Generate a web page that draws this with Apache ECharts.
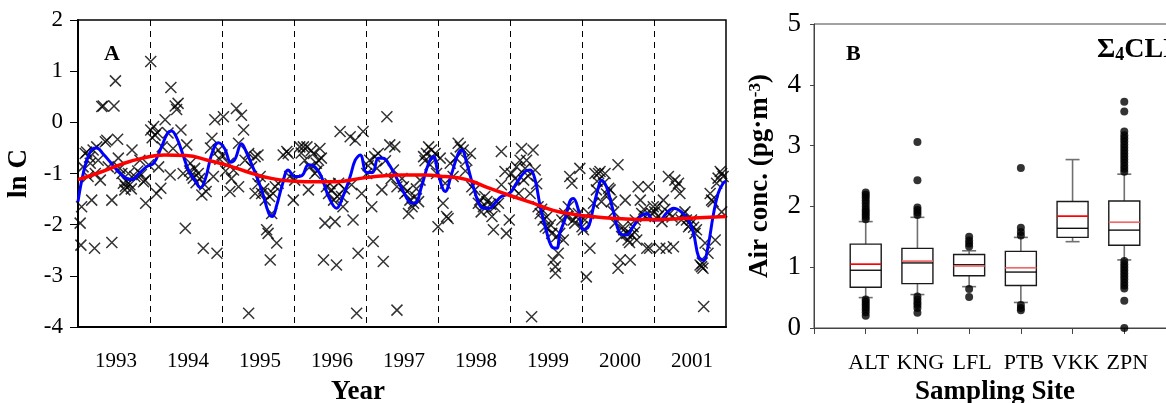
<!DOCTYPE html>
<html><head><meta charset="utf-8">
<script src="https://cdn.jsdelivr.net/npm/echarts@6/dist/echarts.min.js"></script>
<style>html,body{margin:0;padding:0;background:#fff}#c{width:1166px;height:403px}</style>
</head><body><div id="c"></div>
<script>
// ---------- Panel A data ----------
const yearLabels = ['1993','1994','1995','1996','1997','1998','1999','2000','2001'];
const lnCTicks = [-4,-3,-2,-1,0,1,2];
// individual samples [year, ln C]
const lnCSamples = [
[1993.03,-1.97],[1993.04,-2.40],[1993.05,-1.65],[1993.07,-0.87],[1993.10,-0.61],[1993.12,-0.58],[1993.14,-1.06],[1993.16,-0.68],[1993.17,-0.80],[1993.19,-1.52],[1993.21,-0.54],[1993.23,-2.46],[1993.24,-1.00],[1993.26,-0.48],[1993.28,-0.74],[1993.31,-1.13],[1993.33,0.31],[1993.35,0.32],[1993.38,-0.38],[1993.40,-0.35],[1993.42,-0.87],[1993.47,-1.52],[1993.47,-2.35],[1993.50,0.32],[1993.52,0.81],[1993.55,-0.33],[1993.56,-0.70],[1993.58,-0.90],[1993.61,-1.00],[1993.63,-1.19],[1993.65,-1.32],[1993.66,-1.25],[1993.68,-1.16],[1993.70,-1.00],[1993.72,-1.22],[1993.74,-1.30],[1993.75,-0.54],[1993.79,-1.06],[1993.83,-0.95],[1993.86,-0.74],[1993.88,-1.02],[1993.91,-1.16],[1993.93,-1.13],[1993.94,-1.58],[1993.98,-0.83],
[1994.01,1.19],[1994.01,-0.15],[1994.03,-0.30],[1994.05,-0.08],[1994.07,-0.25],[1994.09,-1.39],[1994.10,-0.20],[1994.12,-0.87],[1994.15,-1.29],[1994.17,-0.48],[1994.21,0.05],[1994.25,-0.21],[1994.28,-1.03],[1994.29,0.68],[1994.32,-0.51],[1994.35,0.32],[1994.37,0.25],[1994.39,0.37],[1994.43,-0.15],[1994.46,-1.00],[1994.49,-2.07],[1994.51,-0.44],[1994.55,-0.95],[1994.56,-0.80],[1994.58,-1.03],[1994.60,-1.09],[1994.62,-0.90],[1994.64,-1.18],[1994.67,-1.00],[1994.69,-1.10],[1994.72,-1.42],[1994.74,-2.46],[1994.76,-1.22],[1994.78,-1.35],[1994.84,-0.50],[1994.86,-0.31],[1994.88,-1.06],[1994.90,0.05],[1994.93,-2.56],[1994.95,-0.54],[1994.97,-0.72],
[1995.00,-0.64],[1995.02,0.11],[1995.05,-0.95],[1995.09,-0.80],[1995.11,-1.35],[1995.13,-1.10],[1995.16,-0.93],[1995.20,0.27],[1995.23,-0.41],[1995.23,-1.26],[1995.27,0.14],[1995.30,-0.15],[1995.32,-0.74],[1995.37,-0.61],[1995.37,-3.73],[1995.41,-0.87],[1995.46,-0.67],[1995.46,-1.39],[1995.50,-0.64],[1995.50,-1.20],[1995.53,-1.06],[1995.55,-1.39],[1995.58,-1.30],[1995.60,-1.52],[1995.62,-2.10],[1995.64,-2.17],[1995.66,-1.45],[1995.67,-2.69],[1995.69,-1.78],[1995.71,-1.39],[1995.74,-1.26],[1995.76,-2.36],[1995.78,-1.19],[1995.85,-0.64],[1995.90,-0.57],[1995.92,-0.61],[1995.94,-1.06],[1995.99,-1.52],
[1996.01,-1.13],[1996.08,-0.48],[1996.10,-0.60],[1996.13,-0.48],[1996.15,-0.74],[1996.18,-0.48],[1996.20,-1.32],[1996.22,-0.87],[1996.24,-0.55],[1996.27,-0.61],[1996.29,-1.00],[1996.31,-0.80],[1996.32,-0.95],[1996.34,-0.74],[1996.36,-0.51],[1996.38,-0.70],[1996.41,-2.69],[1996.43,-1.97],[1996.45,-1.26],[1996.48,-1.39],[1996.50,-1.20],[1996.52,-1.32],[1996.55,-1.52],[1996.57,-1.94],[1996.59,-2.79],[1996.60,-1.45],[1996.62,-1.19],[1996.64,-0.18],[1996.66,-1.45],[1996.68,-1.65],[1996.70,-1.30],[1996.78,-0.28],[1996.80,-1.22],[1996.82,-1.91],[1996.85,-0.35],[1996.87,-3.73],[1996.89,-2.56],[1996.94,-1.39],[1996.96,-0.18],
[1997.01,-1.00],[1997.03,-0.85],[1997.05,-0.74],[1997.08,-1.65],[1997.10,-2.33],[1997.12,-0.67],[1997.15,-0.90],[1997.17,-0.61],[1997.22,-1.32],[1997.24,-2.72],[1997.27,-0.75],[1997.29,0.11],[1997.33,-0.44],[1997.35,-1.10],[1997.38,-0.93],[1997.40,-0.48],[1997.43,-3.67],[1997.43,-1.26],[1997.50,-1.10],[1997.52,-1.26],[1997.54,-1.39],[1997.57,-1.35],[1997.59,-1.78],[1997.61,-1.52],[1997.64,-1.65],[1997.66,-1.58],[1997.68,-1.45],[1997.70,-1.30],[1997.73,-1.55],[1997.75,-1.13],[1997.80,-0.67],[1997.82,-0.75],[1997.84,-0.61],[1997.87,-0.48],[1997.89,-0.83],[1997.91,-0.54],[1997.93,-0.70],[1997.96,-0.61],[1997.98,-1.00],
[1998.00,-2.04],[1998.03,-0.70],[1998.07,-1.58],[1998.10,-1.19],[1998.12,-1.84],[1998.14,-1.88],[1998.17,-0.80],[1998.21,-1.06],[1998.25,-0.70],[1998.28,-0.41],[1998.31,-0.48],[1998.35,-0.54],[1998.38,-0.95],[1998.40,-0.74],[1998.45,-0.61],[1998.47,-1.26],[1998.51,-1.32],[1998.56,-1.58],[1998.58,-1.52],[1998.60,-1.75],[1998.63,-1.65],[1998.65,-1.45],[1998.68,-1.55],[1998.70,-1.71],[1998.73,-1.60],[1998.75,-1.84],[1998.77,-2.10],[1998.79,-1.65],[1998.84,-1.58],[1998.88,-0.57],[1998.88,-1.22],[1998.93,-0.96],[1998.95,-2.17],[1998.99,-1.91],
[1999.02,-1.00],[1999.05,-1.29],[1999.07,-1.10],[1999.09,-0.87],[1999.12,-1.39],[1999.14,-0.74],[1999.16,-0.51],[1999.19,-1.13],[1999.21,-0.90],[1999.23,-0.74],[1999.25,-1.05],[1999.28,-1.39],[1999.30,-3.80],[1999.32,-0.54],[1999.35,-0.93],[1999.37,-1.20],[1999.39,-1.65],[1999.42,-1.78],[1999.44,-1.70],[1999.46,-1.91],[1999.49,-2.04],[1999.51,-1.85],[1999.53,-2.07],[1999.56,-2.00],[1999.58,-2.17],[1999.60,-2.69],[1999.63,-2.82],[1999.63,-2.95],[1999.65,-2.23],[1999.67,-2.56],[1999.69,-2.17],[1999.72,-1.91],[1999.74,-2.30],[1999.76,-1.78],[1999.79,-1.85],[1999.81,-1.65],[1999.83,-1.06],[1999.86,-1.19],[1999.88,-1.91],[1999.90,-1.97],[1999.92,-1.85],[1999.95,-1.78],[1999.97,-0.90],
[2000.00,-2.04],[2000.02,-2.10],[2000.04,-1.91],[2000.06,-3.02],[2000.09,-1.78],[2000.11,-2.46],[2000.16,-1.58],[2000.18,-1.00],[2000.20,-1.32],[2000.21,-1.15],[2000.23,-1.00],[2000.25,-0.96],[2000.27,-1.55],[2000.30,-1.19],[2000.32,-1.00],[2000.34,-1.40],[2000.37,-1.29],[2000.39,-1.32],[2000.41,-1.55],[2000.44,-1.75],[2000.46,-1.97],[2000.50,-0.83],[2000.50,-2.85],[2000.53,-2.69],[2000.55,-2.23],[2000.57,-2.04],[2000.58,-2.10],[2000.60,-1.52],[2000.62,-2.17],[2000.64,-2.30],[2000.66,-2.35],[2000.67,-2.69],[2000.69,-2.20],[2000.71,-2.04],[2000.73,-2.15],[2000.74,-1.91],[2000.76,-2.30],[2000.78,-1.26],[2000.81,-1.52],[2000.83,-1.78],[2000.86,-1.70],[2000.88,-1.84],[2000.90,-2.46],[2000.92,-1.26],[2000.94,-2.46],[2000.97,-1.78],[2000.99,-1.65],
[2001.01,-1.75],[2001.04,-1.65],[2001.06,-1.84],[2001.08,-2.46],[2001.11,-1.94],[2001.13,-1.52],[2001.15,-1.70],[2001.17,-2.46],[2001.20,-1.06],[2001.22,-1.78],[2001.25,-1.85],[2001.27,-2.43],[2001.29,-1.13],[2001.31,-1.26],[2001.34,-1.19],[2001.36,-1.39],[2001.38,-1.91],[2001.40,-1.80],[2001.43,-1.75],[2001.45,-1.91],[2001.48,-2.04],[2001.50,-2.00],[2001.52,-1.91],[2001.55,-2.05],[2001.57,-2.17],[2001.59,-2.10],[2001.64,-2.79],[2001.66,-2.82],[2001.67,-2.75],[2001.68,-2.85],[2001.69,-3.60],[2001.71,-2.36],[2001.75,-2.56],[2001.78,-1.39],[2001.80,-1.52],[2001.82,-1.55],[2001.85,-2.30],[2001.87,-1.19],[2001.89,-1.09],[2001.92,-0.96],[2001.94,-1.00],[2001.94,-1.75],[2001.96,-1.06]
];
// short-term smoothed curve (blue)
const smoothYear = [1993.00,1993.05,1993.12,1993.20,1993.26,1993.35,1993.45,1993.55,1993.65,1993.75,1993.85,1993.95,1994.05,1994.16,1994.24,1994.30,1994.37,1994.45,1994.53,1994.63,1994.70,1994.77,1994.86,1994.95,1995.04,1995.12,1995.18,1995.27,1995.35,1995.45,1995.55,1995.65,1995.70,1995.76,1995.83,1995.92,1996.01,1996.11,1996.20,1996.29,1996.38,1996.48,1996.59,1996.68,1996.78,1996.85,1996.92,1997.01,1997.09,1997.17,1997.24,1997.31,1997.40,1997.50,1997.60,1997.68,1997.77,1997.87,1997.94,1998.00,1998.10,1998.19,1998.28,1998.33,1998.40,1998.49,1998.58,1998.65,1998.72,1998.79,1998.88,1999.00,1999.09,1999.21,1999.28,1999.35,1999.42,1999.49,1999.58,1999.65,1999.69,1999.76,1999.83,1999.88,1999.95,2000.02,2000.09,2000.16,2000.23,2000.27,2000.34,2000.43,2000.53,2000.62,2000.71,2000.81,2000.90,2000.99,2001.08,2001.17,2001.27,2001.38,2001.48,2001.55,2001.62,2001.69,2001.75,2001.82,2001.89,2001.96,2002.00];
const smoothLnC = [-1.55,-1.15,-0.75,-0.52,-0.50,-0.62,-0.78,-0.95,-1.08,-1.12,-1.00,-0.87,-0.80,-0.48,-0.22,-0.17,-0.30,-0.60,-0.92,-1.15,-1.28,-1.10,-0.61,-0.40,-0.52,-0.78,-0.72,-0.42,-0.62,-0.95,-1.32,-1.78,-1.84,-1.62,-1.26,-0.93,-1.06,-1.04,-0.83,-0.87,-1.06,-1.45,-1.68,-1.45,-1.06,-0.74,-0.64,-0.98,-0.98,-0.70,-0.70,-0.80,-1.02,-1.30,-1.55,-1.58,-1.26,-0.80,-0.67,-1.00,-1.35,-1.00,-0.61,-0.54,-0.80,-1.26,-1.62,-1.68,-1.68,-1.58,-1.45,-1.38,-1.19,-0.96,-0.93,-1.13,-1.65,-2.04,-2.43,-2.46,-2.17,-1.91,-1.55,-1.49,-1.71,-2.10,-2.04,-1.65,-1.26,-1.13,-1.26,-1.71,-2.17,-2.20,-2.04,-1.84,-1.78,-1.91,-1.91,-1.78,-1.68,-1.75,-1.91,-2.17,-2.63,-2.69,-2.43,-1.84,-1.39,-1.19,-1.15];
// long-term trend (red)
const trendYear = [1993.0,1993.3,1993.6,1993.9,1994.2,1994.5,1994.8,1995.1,1995.4,1995.7,1996.0,1996.3,1996.6,1996.9,1997.2,1997.5,1997.8,1998.1,1998.4,1998.7,1999.0,1999.3,1999.6,1999.9,2000.2,2000.5,2000.8,2001.1,2001.4,2001.7,2002.0];
const trendLnC = [-1.12,-0.98,-0.82,-0.70,-0.64,-0.65,-0.74,-0.85,-0.99,-1.10,-1.15,-1.16,-1.16,-1.10,-1.05,-1.03,-1.03,-1.06,-1.12,-1.28,-1.43,-1.57,-1.72,-1.80,-1.85,-1.88,-1.90,-1.90,-1.88,-1.86,-1.84];

// ---------- Panel B data ----------
const sites = ['ALT','KNG','LFL','PTB','VKK','ZPN'];
const airTicks = [0,1,2,3,4,5];
const whiskerLow  = [0.50, 0.55, 0.68, 0.42, 1.42, 1.12];
const quart1      = [0.67, 0.73, 0.86, 0.70, 1.49, 1.36];
const medians     = [0.95, 1.07, 1.04, 0.92, 1.64, 1.61];
const quart3      = [1.38, 1.31, 1.21, 1.26, 2.08, 2.09];
const whiskerHigh = [1.75, 1.82, 1.27, 1.49, 2.77, 2.53];
const means       = [1.05, 1.10, 1.02, 0.99, 1.84, 1.74];
const outALT = [1.79,1.83,1.87,1.91,1.95,2.00,2.05,2.10,2.15,2.19,2.23,0.47,0.43,0.39,0.35,0.31,0.26,0.20];
const outKNG = [1.86,1.90,1.94,1.98,2.43,3.06,0.52,0.47,0.42,0.38,0.33,0.25];
const outLFL = [1.34,1.39,1.44,1.50,0.64,0.51];
const outPTB = [1.52,1.58,1.65,2.63,0.38,0.33,0.29];
const outVKK = [];
const outZPN = [2.57,2.62,2.67,2.72,2.77,2.82,2.87,2.92,2.97,3.02,3.07,3.12,3.17,3.23,3.56,3.72,1.10,1.05,1.00,0.95,0.90,0.85,0.80,0.75,0.70,0.65,0.45,0.00];
const outliersBySite = [outALT,outKNG,outLFL,outPTB,outVKK,outZPN];

// ---------- styles ----------
const SERIF = 'Liberation Serif, Times New Roman, serif';
const meanColors = ['#ff0000','#f06a6a','#f06a6a','#f06a6a','#ff0000','#f06a6a'];

const boxData = sites.map((s, i) => [i + 1, whiskerLow[i], quart1[i], medians[i], quart3[i], whiskerHigh[i], means[i]]);
const outlierData = [];
outliersBySite.forEach((arr, i) => arr.forEach(v => outlierData.push([i + 1, v])));

function renderBox(params, api) {
  const idx = api.value(0);
  const p = k => api.coord([idx, api.value(k)]);
  const pMin = p(1), pQ1 = p(2), pMed = p(3), pQ3 = p(4), pMax = p(5), pMean = p(6);
  const cx = pMin[0], hw = 15.5, cap = 7;
  const gray = {stroke: '#707070', lineWidth: 1.6};
  return {type: 'group', children: [
    {type: 'line', shape: {x1: cx, y1: pQ3[1], x2: cx, y2: pMax[1]}, style: gray},
    {type: 'line', shape: {x1: cx, y1: pQ1[1], x2: cx, y2: pMin[1]}, style: gray},
    {type: 'line', shape: {x1: cx - cap, y1: pMax[1], x2: cx + cap, y2: pMax[1]}, style: gray},
    {type: 'line', shape: {x1: cx - cap, y1: pMin[1], x2: cx + cap, y2: pMin[1]}, style: gray},
    {type: 'rect', shape: {x: cx - hw, y: pQ3[1], width: 2 * hw, height: pQ1[1] - pQ3[1]}, style: {fill: '#fff', stroke: '#1a1a1a', lineWidth: 1.4}},
    {type: 'line', shape: {x1: cx - hw, y1: pMed[1], x2: cx + hw, y2: pMed[1]}, style: {stroke: '#000', lineWidth: 1.3}},
    {type: 'line', shape: {x1: cx - hw, y1: pMean[1], x2: cx + hw, y2: pMean[1]}, style: {stroke: meanColors[params.dataIndex], lineWidth: 1.7}}
  ]};
}

const chart = echarts.init(document.getElementById('c'), null, {renderer: 'canvas'});
chart.setOption({
  animation: false,
  backgroundColor: '#fff',
  grid: [
    {left: 78, top: 20, width: 648, height: 307, containLabel: false, outerBoundsMode: 'none',
     show: true, borderColor: '#000', borderWidth: 1.5, backgroundColor: 'transparent'},
    {left: 814, top: 24, width: 362, height: 304, containLabel: false, outerBoundsMode: 'none',
     show: true, borderColor: '#444', borderWidth: 1, backgroundColor: 'transparent'}
  ],
  xAxis: [
    {type: 'value', gridIndex: 0, min: 1993, max: 2002, interval: 1, position: 'bottom',
     axisLine: {onZero: false, lineStyle: {color: '#000', width: 2}}, axisTick: {show: false}, axisLabel: {show: false},
     splitLine: {show: true, showMinLine: false, showMaxLine: false, lineStyle: {color: '#000', width: 1, type: [6, 5]}}},
    {type: 'category', gridIndex: 0, data: yearLabels, boundaryGap: true, position: 'bottom',
     axisLine: {show: false, onZero: false}, axisTick: {show: false}, splitLine: {show: false},
     axisLabel: {interval: 0, margin: 24, fontFamily: SERIF, fontSize: 21, color: '#000', padding: [0, 0, 0, 4]},
     name: 'Year', nameLocation: 'middle', nameGap: 52,
     nameTextStyle: {fontFamily: SERIF, fontSize: 27, fontWeight: 'bold', color: '#000', padding: [0, 88, 0, 0]}},
    {type: 'category', gridIndex: 1, data: [''].concat(sites, ['']), boundaryGap: false, position: 'bottom',
     axisLine: {onZero: false, lineStyle: {color: '#444', width: 1}}, axisTick: {show: true, length: 6, interval: 0, lineStyle: {color: '#444'}},
     axisLabel: {interval: 0, margin: 24, fontFamily: SERIF, fontSize: 22, color: '#000', padding: [0, 0, 0, 6]},
     splitLine: {show: false},
     name: 'Sampling Site', nameLocation: 'middle', nameGap: 51,
     nameTextStyle: {fontFamily: SERIF, fontSize: 27, fontWeight: 'bold', color: '#000'}}
  ],
  yAxis: [
    {type: 'value', gridIndex: 0, min: lnCTicks[0], max: lnCTicks[lnCTicks.length - 1], interval: 1,
     axisLine: {show: true, onZero: false, lineStyle: {color: '#000', width: 2}},
     axisTick: {show: true, length: 8, lineStyle: {color: '#000', width: 1}},
     axisLabel: {margin: 15, fontFamily: SERIF, fontSize: 23, color: '#000'},
     splitLine: {show: false},
     name: 'ln C', nameLocation: 'middle', nameGap: 41, nameRotate: 90,
     nameTextStyle: {fontFamily: SERIF, fontSize: 27, fontWeight: 'bold', color: '#000'}},
    {type: 'value', gridIndex: 1, min: airTicks[0], max: airTicks[airTicks.length - 1], interval: 1,
     axisLine: {show: true, onZero: false, lineStyle: {color: '#444', width: 1}},
     axisTick: {show: true, length: 4, lineStyle: {color: '#444'}},
     axisLabel: {margin: 13, fontFamily: SERIF, fontSize: 27, color: '#000'},
     splitLine: {show: false},
     name: 'Air conc. (pg·m{sup|-3})', nameLocation: 'middle', nameGap: 40, nameRotate: 90,
     nameTextStyle: {fontFamily: SERIF, fontSize: 27, fontWeight: 'bold', color: '#000',
       rich: {sup: {fontFamily: SERIF, fontSize: 17, fontWeight: 'bold', color: '#000', verticalAlign: 'top'}}}}
  ],
  graphic: [
    {type: 'text', left: 104, top: 43, style: {text: 'A', fontFamily: SERIF, fontSize: 22, fontWeight: 'bold', fill: '#000'}},
    {type: 'text', left: 846, top: 43, style: {text: 'B', fontFamily: SERIF, fontSize: 22, fontWeight: 'bold', fill: '#000'}},
    {type: 'text', left: 1097, top: 36, style: {text: '{m|Σ}{s|4}{m|CLD}', fill: '#000',
      rich: {m: {fontFamily: SERIF, fontSize: 28, fontWeight: 'bold', fill: '#000'},
             s: {fontFamily: SERIF, fontSize: 18, fontWeight: 'bold', fill: '#000', verticalAlign: 'bottom', padding: [8, 0, 0, 0]}}}}
  ],
  series: [
    {type: 'scatter', xAxisIndex: 0, yAxisIndex: 0, data: lnCSamples,
     symbol: 'path://M0,0L10,10M10,0L0,10', symbolSize: 11,
     itemStyle: {color: 'rgba(0,0,0,0)', borderColor: '#000', borderWidth: 1.5}, z: 2},
    {type: 'line', xAxisIndex: 0, yAxisIndex: 0, data: smoothYear.map((y, i) => [y, smoothLnC[i]]),
     smooth: 0.4, showSymbol: false, symbol: 'none', lineStyle: {color: '#0000ff', width: 3}, z: 3},
    {type: 'line', xAxisIndex: 0, yAxisIndex: 0, data: trendYear.map((y, i) => [y, trendLnC[i]]),
     smooth: 0.5, showSymbol: false, symbol: 'none', lineStyle: {color: '#ff0000', width: 3.5}, z: 4},
    {type: 'custom', xAxisIndex: 2, yAxisIndex: 1, data: boxData, renderItem: renderBox,
     encode: {x: 0, y: [1, 2, 3, 4, 5, 6]}, z: 2},
    {type: 'scatter', xAxisIndex: 2, yAxisIndex: 1, data: outlierData, symbol: 'circle', symbolSize: 8,
     itemStyle: {color: '#000'}, z: 3}
  ]
});
</script></body></html>
